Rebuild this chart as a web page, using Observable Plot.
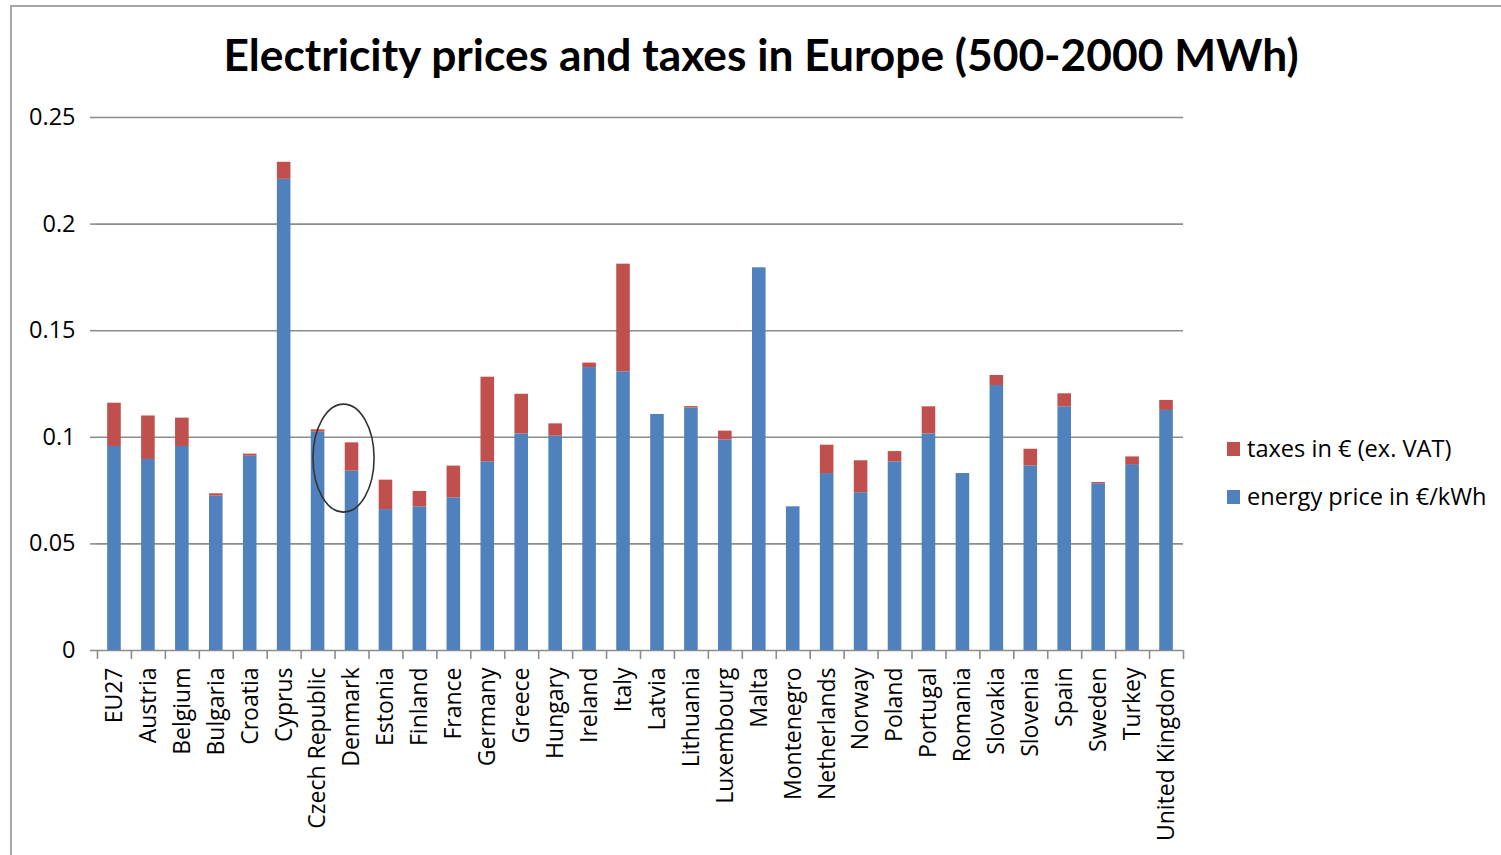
<!DOCTYPE html>
<html><head><meta charset="utf-8">
<script src="https://cdn.jsdelivr.net/npm/d3@7"></script>
<script src="https://cdn.jsdelivr.net/npm/@observablehq/plot@0.6"></script>
<style>
html,body{margin:0;padding:0;background:#fff;}
body{width:1501px;height:855px;overflow:hidden;position:relative;font-family:"Open Sans",Lato,sans-serif;}
#frame{position:absolute;left:10px;top:5px;width:1500px;height:900px;border-left:2px solid #a6a6a6;border-top:2px solid #a6a6a6;}
#chart{position:absolute;left:0;top:0;}
#title{position:absolute;left:0;width:1522px;top:32px;text-align:center;font-family:Lato,sans-serif;font-weight:700;font-size:44.3px;color:#000;line-height:1;white-space:nowrap;}
.legend{position:absolute;left:1227px;font-size:23.6px;color:#000;display:flex;align-items:center;line-height:1;white-space:nowrap;}
.sw{width:13px;height:14px;margin-right:7px;}
</style></head><body>
<div id="frame"></div>
<div id="chart"></div>
<div id="title">Electricity prices and taxes in Europe (500-2000 MWh)</div>
<div class="legend" id="lg0" style="top:437px"><span class="sw" id="sw0"></span><span id="lt0"></span></div>
<div class="legend" id="lg1" style="top:485px"><span class="sw" id="sw1"></span><span id="lt1"></span></div>
<script>
const countries = ["EU27","Austria","Belgium","Bulgaria","Croatia","Cyprus","Czech Republic","Denmark","Estonia","Finland","France","Germany","Greece","Hungary","Ireland","Italy","Latvia","Lithuania","Luxembourg","Malta","Montenegro","Netherlands","Norway","Poland","Portugal","Romania","Slovakia","Slovenia","Spain","Sweden","Turkey","United Kingdom"];
const energyPrice = [0.0957,0.0896,0.0957,0.0724,0.0911,0.2210,0.1024,0.0841,0.0661,0.0674,0.0716,0.0885,0.1016,0.1005,0.1327,0.1307,0.1107,0.1137,0.0988,0.1795,0.0674,0.0830,0.0740,0.0885,0.1016,0.0830,0.1243,0.0866,0.1143,0.0782,0.0872,0.1126];
const taxes = [0.0203,0.0204,0.0133,0.0011,0.0010,0.0080,0.0011,0.0133,0.0138,0.0072,0.0149,0.0397,0.0186,0.0058,0.0021,0.0505,0.0000,0.0007,0.0041,0.0000,0.0000,0.0133,0.0150,0.0048,0.0127,0.0000,0.0047,0.0078,0.0061,0.0006,0.0036,0.0047];
const yTicks = [0, 0.05, 0.1, 0.15, 0.2, 0.25];
const seriesNames = ["energy price in €/kWh", "taxes in € (ex. VAT)"];
const seriesColors = ["#4F81BD", "#C0504D"];
const highlight = [{country: "Denmark", value: 0.090}];

const rows = countries.flatMap((c, i) => [
  {country: c, series: seriesNames[0], value: energyPrice[i]},
  {country: c, series: seriesNames[1], value: taxes[i]}
]);

const W = 1501, H = 855, mL = 97, mR = 318, mT = 117, mB = 205;
const step = (W - mL - mR) / countries.length;
const gridColor = "#8c8c8c";

const chart = Plot.plot({
  width: W, height: H,
  marginLeft: mL, marginRight: mR, marginTop: mT, marginBottom: mB,
  style: {fontFamily: "'Open Sans', Lato, sans-serif", background: "transparent", overflow: "visible"},
  x: {domain: countries, paddingInner: 0.6, paddingOuter: 0.3, round: false, label: null},
  y: {domain: [0, 0.25], label: null},
  color: {domain: seriesNames, range: seriesColors},
  marks: [
    Plot.gridY(yTicks, {stroke: gridColor, strokeOpacity: 1, strokeWidth: 1.6}),
    Plot.barY(rows, {x: "country", y: "value", fill: "series"}),
    Plot.axisY({ticks: yTicks, tickFormat: d => String(d), tickSize: 7, tickPadding: 15, fontSize: 23.5, label: null, line: true, stroke: gridColor, strokeWidth: 1.6, fill: "#000"}),
    Plot.axisX({tickSize: 0, tickPadding: 17, tickRotate: -90, fontSize: 23, label: null, fill: "#000"}),
    Plot.axisX({tickSize: 9, tickFormat: () => "", label: null, dx: -step / 2, stroke: gridColor, strokeWidth: 1.6}),
    Plot.axisX({ticks: [countries[countries.length - 1]], tickSize: 9, tickFormat: () => "", label: null, dx: step / 2, stroke: gridColor, strokeWidth: 1.6}),
    Plot.dot(highlight, {
      x: "country", y: "value", r: 0,
      render(index, scales, values, dims, context) {
        const g = d3.create("svg:g");
        for (const i of index) {
          const d = highlight[i];
          const cx = scales.x(d.country) + scales.x.bandwidth() / 2 - 8;
          const cy = scales.y(d.value);
          g.append("ellipse").attr("cx", cx).attr("cy", cy)
            .attr("rx", step * 0.9).attr("ry", 54)
            .attr("fill", "none").attr("stroke", "#333").attr("stroke-width", 1.6);
        }
        return g.node();
      }
    })
  ]
});
document.getElementById("chart").appendChild(chart);

// legend (HTML), taxes on top
const order = [1, 0];
order.forEach((s, k) => {
  document.getElementById("sw" + k).style.background = seriesColors[s];
  document.getElementById("lt" + k).textContent = seriesNames[s];
});
</script>
</body></html>
